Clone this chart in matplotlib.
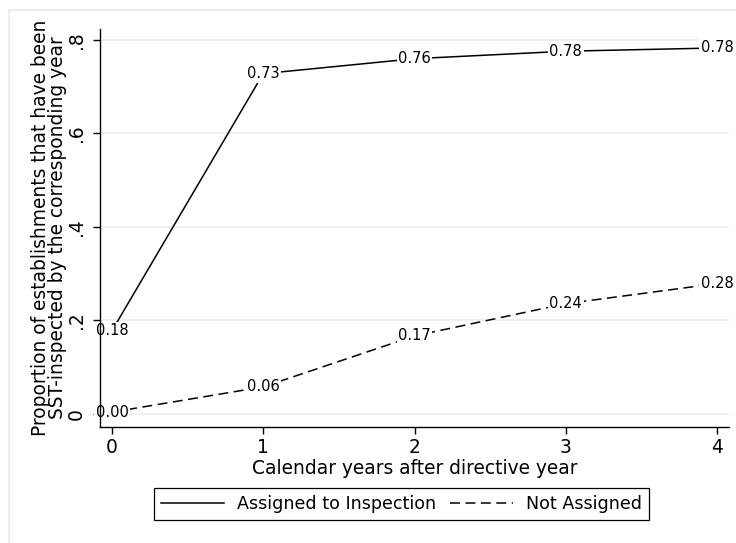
import matplotlib
matplotlib.use("Agg")
import matplotlib.pyplot as plt
from matplotlib.patches import Rectangle

# Years after the directive year
years = [0, 1, 2, 3, 4]
# Cumulative share of establishments SST-inspected
assigned = [0.178, 0.728, 0.760, 0.776, 0.783]
not_assigned = [0.004, 0.058, 0.167, 0.236, 0.279]
yticks = [0, 0.2, 0.4, 0.6, 0.8]
ytick_labels = ["0", ".2", ".4", ".6", ".8"]

plt.rcParams["font.family"] = "DejaVu Sans"
W, H = 736, 543
fig = plt.figure(figsize=(W / 100, H / 100), dpi=100)
fig.patch.set_facecolor("white")

# light outer frame around the graph region
fig.patches.append(Rectangle((8.5 / W, -0.1), 1.2, 1 - 9.5 / H + 0.1,
                             transform=fig.transFigure, fill=False,
                             edgecolor="#e6eef1", linewidth=1.5))

ax = fig.add_axes([100 / W, 1 - 427 / H, 629 / W, 398 / H])
ax.set_xlim(-0.079, 4.079)
ax.set_ylim(-0.0278, 0.8235)

for s in ("top", "right"):
    ax.spines[s].set_visible(False)
for s in ("left", "bottom"):
    ax.spines[s].set_linewidth(1.0)
    ax.spines[s].set_color("black")
    ax.spines[s].set_zorder(6)

ax.set_yticks(yticks)
ax.set_yticklabels(ytick_labels, rotation=90, va="center")
ax.set_xticks(years)
ax.tick_params(axis="both", labelsize=13.4, length=5, width=1.0, color="black")
ax.tick_params(axis="y", pad=5)
ax.tick_params(axis="x", pad=3)

ax.yaxis.grid(True, color="#e8eff2", linewidth=1.3)
ax.set_axisbelow(True)

l1, = ax.plot(years, assigned, color="black", linewidth=1.1,
              label="Assigned to Inspection")
l2, = ax.plot(years, not_assigned, color="black", linewidth=1.1,
              linestyle=(0, (6.5, 3.6)), label="Not Assigned")

for xs, ys in ((years, assigned), (years, not_assigned)):
    for x, y in zip(xs, ys):
        ax.text(x, y, f"{y:.2f}", ha="center", va="center", fontsize=10.5,
                bbox=dict(facecolor="white", edgecolor="none", pad=1.0),
                zorder=5)

ax.set_xlabel("Calendar years after directive year", fontsize=13.4, labelpad=1)
ax.set_ylabel("Proportion of establishments that have been\n"
              "SST-inspected by the corresponding year",
              fontsize=13.4, linespacing=0.85, labelpad=0.3)

leg = fig.legend(handles=[l1, l2], loc="center",
                 bbox_to_anchor=(401.5 / W, 1 - 504 / H), ncol=2,
                 fontsize=12.6, frameon=True, fancybox=False,
                 handlelength=3.6, handletextpad=0.75, columnspacing=0.8,
                 borderpad=0.4)
leg.get_frame().set_edgecolor("black")
leg.get_frame().set_linewidth(0.9)
leg.get_frame().set_alpha(1)

fig.savefig("out.png", dpi=100, facecolor="white")
